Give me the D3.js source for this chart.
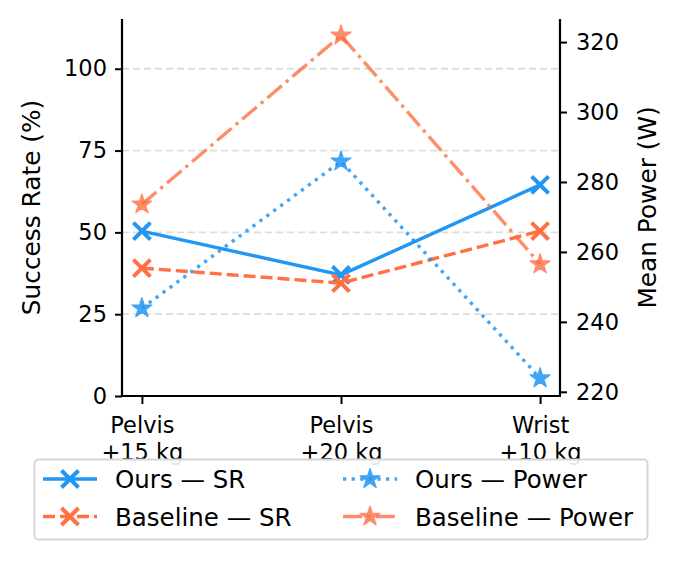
<!DOCTYPE html>
<html>
<head>
<meta charset="utf-8">
<script src="https://cdn.jsdelivr.net/npm/d3@7"></script>
<style>
  body { margin: 0; background: #fff; }
  svg, svg text { font-family: "DejaVu Sans", sans-serif; }
</style>
</head>
<body>
<script>
//chart data
var categories = [["Pelvis", "+15 kg"], ["Pelvis", "+20 kg"], ["Wrist", "+10 kg"]];
var oursSR = [50.4, 37, 64.5];
var baseSR = [39.1, 34.5, 50.4];
var oursPower = [243.9, 285.9, 223.9];
var basePower = [273.6, 321.9, 256.5];
var srTicks = [0, 25, 50, 75, 100];
var powerTicks = [220, 240, 260, 280, 300, 320];

var blue = "#2196F3", orange = "#FF7043";

//frame of the plot area
var width = 683, height = 561;
var plotLeft = 122, plotRight = 560, plotTop = 19, plotBottom = 396;

var svg = d3.select("body").append("svg")
    .attr("width", width)
    .attr("height", height);

var x = d3.scaleLinear().domain([-0.1, 2.1]).range([plotLeft, plotRight]);
var ySR = d3.scaleLinear().domain([0, 115.2]).range([plotBottom, plotTop]);
var yPow = d3.scaleLinear().domain([218.8, 326.6]).range([plotBottom, plotTop]);

//grid lines
svg.selectAll(".grid")
    .data(srTicks.filter(function(d){ return d > 0; }))
    .enter()
    .append("line")
    .attr("class", "grid")
    .attr("x1", plotLeft).attr("x2", plotRight)
    .attr("y1", function(d){ return ySR(d); })
    .attr("y2", function(d){ return ySR(d); })
    .attr("stroke", "#dddddd")
    .attr("stroke-width", 1.8)
    .attr("stroke-dasharray", "7,4");

//star marker path
function starPath(r){
    var inner = r * 0.382, pts = [];
    for (var i = 0; i < 10; i++){
        var rr = i % 2 === 0 ? r : inner;
        var a = -Math.PI / 2 + i * Math.PI / 5;
        pts.push([rr * Math.cos(a), rr * Math.sin(a)]);
    }
    return "M" + pts.join("L") + "Z";
}
var xPath = "M-8.5,-8.5L8.5,8.5M-8.5,8.5L8.5,-8.5";

var series = [
    {values: oursSR, scale: ySR, color: blue, dash: null, marker: "x", opacity: 1},
    {values: baseSR, scale: ySR, color: orange, dash: "12,5", marker: "x", opacity: 1},
    {values: oursPower, scale: yPow, color: blue, dash: "3.3,5.3", marker: "star", opacity: 0.85},
    {values: basePower, scale: yPow, color: orange, dash: "19,5.3,3.3,5.3", marker: "star", opacity: 0.8}
];

function drawMarker(g, type, color, opacity){
    if (type === "x"){
        g.append("path").attr("d", xPath)
            .attr("stroke", color).attr("stroke-width", 4).attr("fill", "none");
    } else {
        g.append("path").attr("d", starPath(10.5))
            .attr("fill", color).attr("stroke", color).attr("stroke-width", 1.2)
            .attr("stroke-linejoin", "round")
            .attr("opacity", opacity);
    }
}

series.forEach(function(s){
    var line = d3.line()
        .x(function(d, i){ return x(i); })
        .y(function(d){ return s.scale(d); });
    svg.append("path")
        .datum(s.values)
        .attr("d", line)
        .attr("fill", "none")
        .attr("stroke", s.color)
        .attr("stroke-width", 3.4)
        .attr("stroke-dasharray", s.dash)
        .attr("opacity", s.opacity);
    s.values.forEach(function(v, i){
        var g = svg.append("g").attr("transform", "translate(" + x(i) + "," + s.scale(v) + ")");
        drawMarker(g, s.marker, s.color, s.opacity);
    });
});

//axes
var tickFs = "22.5px", labelFs = "24.8px", legendFs = "24.5px";
var leftAxis = svg.append("g")
    .attr("transform", "translate(" + plotLeft + ",0)")
    .call(d3.axisLeft(ySR).tickValues(srTicks).tickSize(7).tickPadding(8));
var rightAxis = svg.append("g")
    .attr("transform", "translate(" + plotRight + ",0)")
    .call(d3.axisRight(yPow).tickValues(powerTicks).tickSize(7).tickPadding(9));
var bottomAxis = svg.append("g")
    .attr("transform", "translate(0," + plotBottom + ")")
    .call(d3.axisBottom(x).tickValues([0, 1, 2]).tickSize(8).tickFormat(""));

[leftAxis, rightAxis, bottomAxis].forEach(function(a){
    a.attr("font-family", "DejaVu Sans");
    a.select(".domain").attr("stroke-width", 2.2);
    a.selectAll(".tick line").attr("stroke-width", 2);
    a.selectAll(".tick text").style("font-size", tickFs).attr("fill", "#000");
});
leftAxis.select(".domain").attr("d", "M0," + plotTop + "V" + plotBottom);
rightAxis.select(".domain").attr("d", "M0," + plotTop + "V" + plotBottom);
bottomAxis.select(".domain").attr("d", "M" + (plotLeft - 1) + ",0H" + (plotRight + 1));

//category labels on two lines
bottomAxis.selectAll(".tick").each(function(d){
    var t = d3.select(this).append("text")
        .attr("text-anchor", "middle")
        .attr("fill", "#000")
        .style("font-size", tickFs);
    t.append("tspan").attr("x", 0).attr("y", 37).text(categories[d][0]);
    t.append("tspan").attr("x", 0).attr("y", 64).text(categories[d][1]);
});

//axis titles
svg.append("text")
    .attr("transform", "translate(40," + ((plotTop + plotBottom) / 2) + ") rotate(-90)")
    .attr("text-anchor", "middle")
    .style("font-size", labelFs)
    .text("Success Rate (%)");
svg.append("text")
    .attr("transform", "translate(656," + ((plotTop + plotBottom) / 2) + ") rotate(-90)")
    .attr("text-anchor", "middle")
    .style("font-size", labelFs)
    .text("Mean Power (W)");

//legend
var legend = svg.append("g");
legend.append("rect")
    .attr("x", 34.5).attr("y", 459.5)
    .attr("width", 613).attr("height", 80)
    .attr("rx", 4)
    .attr("fill", "#fff")
    .attr("fill-opacity", 0.9)
    .attr("stroke", "#d6d6d6")
    .attr("stroke-width", 2);

var legendItems = [
    {label: "Ours \u2014 SR", s: series[0], cx: 43, cy: 479},
    {label: "Baseline \u2014 SR", s: series[1], cx: 43, cy: 516.5},
    {label: "Ours \u2014 Power", s: series[2], cx: 343, cy: 479},
    {label: "Baseline \u2014 Power", s: series[3], cx: 343, cy: 516.5}
];
legendItems.forEach(function(it){
    legend.append("line")
        .attr("x1", it.cx).attr("x2", it.cx + 54)
        .attr("y1", it.cy).attr("y2", it.cy)
        .attr("stroke", it.s.color)
        .attr("stroke-width", 3.4)
        .attr("stroke-dasharray", it.s.dash)
        .attr("opacity", it.s.opacity);
    var g = legend.append("g").attr("transform", "translate(" + (it.cx + 27) + "," + it.cy + ")");
    drawMarker(g, it.s.marker, it.s.color, it.s.opacity);
    legend.append("text")
        .attr("x", it.cx + 72).attr("y", it.cy + 9)
        .style("font-size", legendFs)
        .text(it.label);
});
</script>
</body>
</html>
